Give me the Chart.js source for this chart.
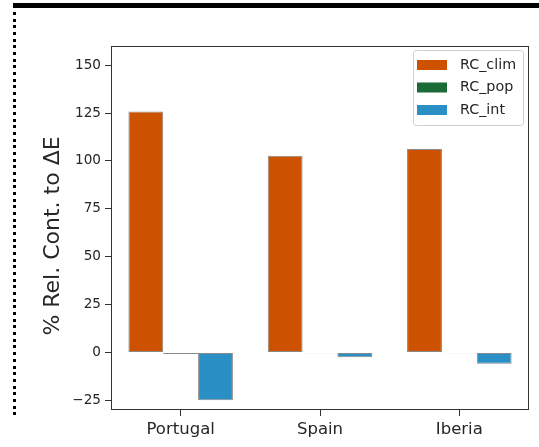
<!DOCTYPE html>
<html>
<head>
<meta charset="utf-8">
<script src="https://cdn.jsdelivr.net/npm/chart.js@4.4.1/dist/chart.umd.min.js"></script>
<style>
  body { margin: 0; background: #fff; }
  #wrap { position: relative; width: 539px; height: 447px; }
  #topline { position: absolute; left: 13px; top: 3px; width: 526px; height: 5px; background: #000; }
  #dots { position: absolute; left: 13px; top: 12px; width: 3px; height: 406px;
          background: repeating-linear-gradient(to bottom, #000 0 3px, transparent 3px 6.67px); }
</style>
</head>
<body>
<div id="wrap">
  <canvas id="chart" width="539" height="447"></canvas>
  <div id="topline"></div>
  <div id="dots"></div>
</div>
<script>
const regions = ['Portugal', 'Spain', 'Iberia'];
const rcClim = [125.8, 102.7, 106.2];
const rcPop = [-0.8, -0.4, -0.4];
const rcInt = [-24.9, -2.5, -5.9];
const yTicks = [-25, 0, 25, 50, 75, 100, 125, 150];
const seriesNames = ['RC_clim', 'RC_pop', 'RC_int'];
const seriesColors = ['#cc5200', '#1b6b39', '#2a8fc5'];
const yTitle = '% Rel. Cont. to ΔE';

const FONT = "'DejaVu Sans', sans-serif";
const TEXT = '#262626';

// axes frame, y title and legend box inside the plot, like matplotlib
const frameAndLegend = {
    id: 'frameAndLegend',
    afterDatasetsDraw(chart) {
        const { ctx, chartArea: a } = chart;
        ctx.save();
        ctx.strokeStyle = '#333';
        ctx.lineWidth = 1;
        ctx.strokeRect(a.left + 0.5, a.top + 0.5, a.right - a.left - 1, a.bottom - a.top - 1);

        // y title, a bit below the axes middle as in the picture
        ctx.save();
        ctx.translate(53, (a.top + a.bottom) / 2 + 8);
        ctx.rotate(-Math.PI / 2);
        ctx.font = '22px ' + FONT;
        ctx.fillStyle = TEXT;
        ctx.textAlign = 'center';
        ctx.textBaseline = 'middle';
        ctx.fillText(yTitle, 0, 0);
        ctx.restore();

        const w = 110, h = 75;
        const x0 = a.right - 6 - w, y0 = a.top + 4;
        ctx.beginPath();
        ctx.roundRect(x0 + 0.5, y0 + 0.5, w, h, 3);
        ctx.fillStyle = 'rgba(255,255,255,0.85)';
        ctx.fill();
        ctx.strokeStyle = '#d0d0d0';
        ctx.stroke();

        ctx.font = '14.3px ' + FONT;
        ctx.textBaseline = 'middle';
        chart.data.datasets.forEach((ds, i) => {
            const cy = y0 + 15 + i * 22.5;
            ctx.fillStyle = ds.backgroundColor;
            ctx.fillRect(x0 + 4, cy - 5, 30, 10);
            ctx.fillStyle = TEXT;
            ctx.fillText(ds.label, x0 + 47, cy);
        });
        ctx.restore();
    }
};

const seriesValues = [rcClim, rcPop, rcInt];

new Chart(document.getElementById('chart'), {
    type: 'bar',
    data: {
        labels: regions,
        datasets: seriesNames.map((name, i) => ({
            label: name,
            data: seriesValues[i],
            backgroundColor: seriesColors[i],
            borderColor: '#8a8a8a',
            borderWidth: 1,
            borderSkipped: false,
            categoryPercentage: 0.75,
            barPercentage: 1.0
        }))
    },
    options: {
        responsive: false,
        animation: false,
        layout: { padding: { top: 46, right: 10, left: 0, bottom: 0 } },
        plugins: { legend: { display: false }, tooltip: { enabled: false } },
        scales: {
            x: {
                type: 'category',
                offset: true,
                grid: { drawOnChartArea: false, drawTicks: true, tickLength: 6, color: '#333', offset: false },
                border: { display: false },
                ticks: { color: TEXT, font: { family: FONT, size: 16.5 }, padding: 4 },
                afterFit: (s) => { s.height = 37; }
            },
            y: {
                type: 'linear',
                min: -30,
                max: 160,
                afterBuildTicks: (s) => { s.ticks = yTicks.map(v => ({ value: v })); },
                grid: { drawOnChartArea: false, drawTicks: true, tickLength: 6, color: '#333' },
                border: { display: false },
                ticks: {
                    color: TEXT,
                    font: { family: FONT, size: 13.6 },
                    padding: 4,
                    callback: (v) => String(v).replace('-', '\u2212')
                },
                afterFit: (s) => { s.width = 111; }
            }
        }
    },
    plugins: [frameAndLegend]
});
</script>
</body>
</html>
